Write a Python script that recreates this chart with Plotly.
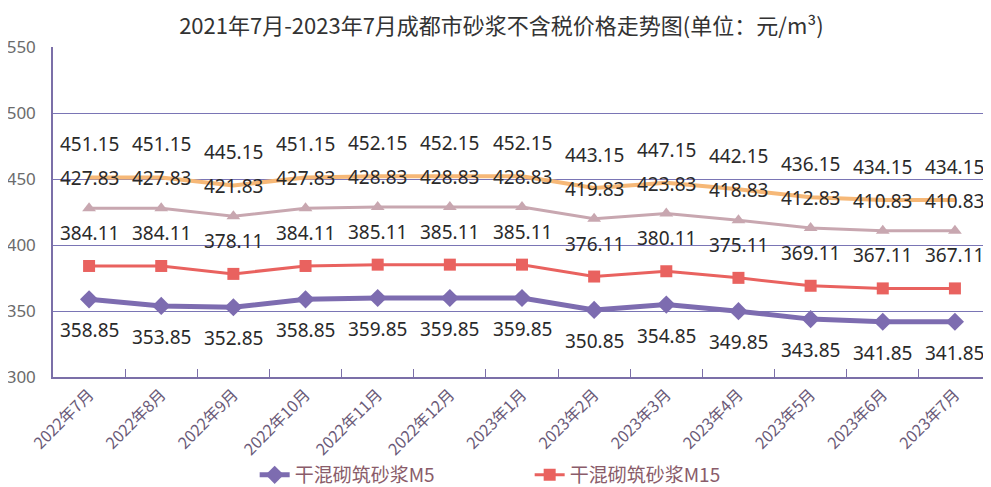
import plotly.graph_objects as go

categories = ["2022年7月", "2022年8月", "2022年9月", "2022年10月", "2022年11月", "2022年12月",
              "2023年1月", "2023年2月", "2023年3月", "2023年4月", "2023年5月", "2023年6月", "2023年7月"]
m5 = [358.85, 353.85, 352.85, 358.85, 359.85, 359.85, 359.85, 350.85, 354.85, 349.85, 343.85, 341.85, 341.85]
m15 = [384.11, 384.11, 378.11, 384.11, 385.11, 385.11, 385.11, 376.11, 380.11, 375.11, 369.11, 367.11, 367.11]
s3 = [427.83, 427.83, 421.83, 427.83, 428.83, 428.83, 428.83, 419.83, 423.83, 418.83, 412.83, 410.83, 410.83]
s4 = [451.15, 451.15, 445.15, 451.15, 452.15, 452.15, 452.15, 443.15, 447.15, 442.15, 436.15, 434.15, 434.15]
y_ticks = [300, 350, 400, 450, 500, 550]

fig = go.Figure()
fig.add_trace(go.Scatter(x=categories, y=s4, mode="lines", name="干混抹灰砂浆",
                         line=dict(color="#F6B877", width=4), showlegend=False))
fig.add_trace(go.Scatter(x=categories, y=s3, mode="lines+markers", name="湿拌砂浆",
                         line=dict(color="#C8A7B0", width=3),
                         marker=dict(symbol="triangle-up", size=12, color="#C8A7B0"), showlegend=False))
fig.add_trace(go.Scatter(x=categories, y=m5, mode="lines+markers", name="干混砌筑砂浆M5",
                         line=dict(color="#7D6CB0", width=5),
                         marker=dict(symbol="diamond", size=14, color="#7D6CB0")))
fig.add_trace(go.Scatter(x=categories, y=m15, mode="lines+markers", name="干混砌筑砂浆M15",
                         line=dict(color="#E9625F", width=3),
                         marker=dict(symbol="square", size=12, color="#E9625F")))

annotations = []
for series, shift in [(s4, 33), (s3, 30), (m15, 33), (m5, -31)]:
    for c, v in zip(categories, series):
        annotations.append(dict(x=c, y=v, text=f"{v:.2f}", showarrow=False, yshift=shift,
                                font=dict(family="Noto Sans, sans-serif", size=19, color="#2a2a2a")))

fig.update_layout(
    width=983, height=479,
    margin=dict(l=45, r=0, t=39, b=110, autoexpand=False),
    paper_bgcolor="white", plot_bgcolor="white",
    title=dict(text="2021年7月-2023年7月成都市砂浆不含税价格走势图(单位：元/m³)",
               x=0.502, xanchor="center", y=0.962, yanchor="middle",
               font=dict(family="Noto Sans CJK SC", size=22, color="#333333")),
    xaxis=dict(type="category", tickangle=-45, tickson="boundaries", ticks="inside", ticklen=8,
               tickcolor="#7B6FA8", showline=True, linecolor="#7B6FA8", linewidth=2,
               showgrid=False, range=[-0.5, 12.5],
               tickfont=dict(family="Noto Sans CJK SC", size=16, color="#6a5a78")),
    yaxis=dict(range=[300, 550], tickvals=y_ticks, showgrid=True, gridcolor="#7A75B5", gridwidth=1,
               showline=True, linecolor="#7B6FA8", linewidth=1.5, zeroline=False,
               ticklabelstandoff=12,
               tickfont=dict(family="Noto Sans, sans-serif", size=17, color="#6b6b6b")),
    legend=dict(orientation="h", x=0.215, xanchor="left", y=-0.297, yanchor="middle",
                font=dict(family="Noto Sans CJK SC", size=19, color="#8a5c6a"),
                entrywidth=230, bgcolor="rgba(0,0,0,0)"),
    annotations=annotations,
)

fig.write_html("out.html")
